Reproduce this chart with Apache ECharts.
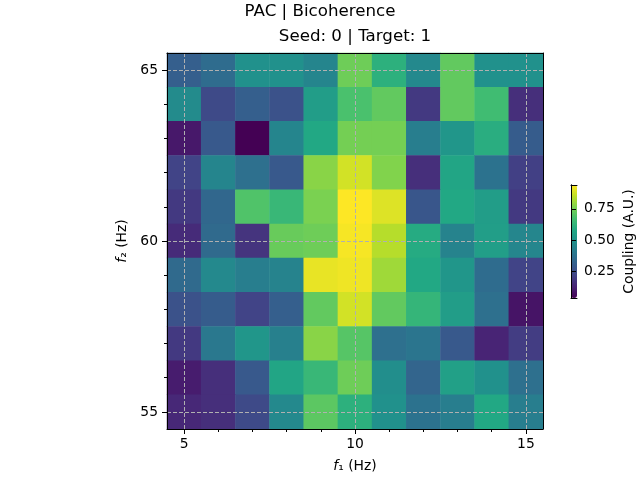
<!DOCTYPE html>
<html>
<head>
<meta charset="utf-8">
<script src="https://cdn.jsdelivr.net/npm/echarts@6/dist/echarts.min.js"></script>
<style>html,body{margin:0;padding:0;background:#fff}#c{width:640px;height:480px}</style>
</head>
<body>
<div id="c"></div>
<script>
// f1 (x) categories and f2 (y) rows, top (65) to bottom (55)
const f1Values = [5, 6, 7, 8, 9, 10, 11, 12, 13, 14, 15];
const f2ValuesTopDown = [65, 64, 63, 62, 61, 60, 59, 58, 57, 56, 55];
const row65 = [0.31, 0.355, 0.49, 0.49, 0.445, 0.74, 0.61, 0.46, 0.72, 0.49, 0.49];
const row64 = [0.47, 0.24, 0.31, 0.265, 0.535, 0.68, 0.72, 0.19, 0.72, 0.66, 0.16];
const row63 = [0.10, 0.29, 0.04, 0.445, 0.58, 0.75, 0.75, 0.42, 0.51, 0.60, 0.30];
const row62 = [0.22, 0.445, 0.37, 0.29, 0.78, 0.88, 0.77, 0.16, 0.57, 0.38, 0.21];
const row61 = [0.19, 0.34, 0.69, 0.64, 0.76, 0.94, 0.895, 0.28, 0.58, 0.535, 0.19];
const row60 = [0.15, 0.35, 0.175, 0.73, 0.74, 0.93, 0.84, 0.59, 0.44, 0.54, 0.45];
const row59 = [0.35, 0.46, 0.42, 0.44, 0.91, 0.92, 0.81, 0.58, 0.51, 0.355, 0.22];
const row58 = [0.265, 0.30, 0.22, 0.31, 0.72, 0.88, 0.72, 0.63, 0.535, 0.37, 0.09];
const row57 = [0.19, 0.40, 0.51, 0.43, 0.78, 0.70, 0.37, 0.39, 0.29, 0.13, 0.20];
const row56 = [0.11, 0.16, 0.29, 0.57, 0.64, 0.74, 0.48, 0.33, 0.55, 0.49, 0.37];
const row55 = [0.14, 0.16, 0.24, 0.46, 0.71, 0.61, 0.49, 0.38, 0.42, 0.58, 0.42];
const rowsTopDown = [row65, row64, row63, row62, row61, row60, row59, row58, row57, row56, row55];

const f1MajorTicks = [5, 10, 15];
const f2MajorTicks = [55, 60, 65];
const f1MinorTicks = [5, 6, 7, 8, 9, 10, 11, 12, 13, 14, 15];
const f2MinorTicks = [55, 56, 57, 58, 59, 60, 61, 62, 63, 64, 65];
const colorbarTicks = [0.25, 0.50, 0.75];
const valueMin = 0.04, valueMax = 0.94;

const viridis = ['#440154','#482475','#414487','#355f8d','#2a788e','#21918c','#22a884','#44bf70','#7ad151','#bddf26','#fde725'];

const FONT = 'DejaVu Sans';
const f2Asc = f2ValuesTopDown.slice().sort((a, b) => a - b);
const heatData = [];
rowsTopDown.forEach((row, r) => {
  const yi = f2Asc.indexOf(f2ValuesTopDown[r]);
  row.forEach((v, c) => heatData.push([c, yi, v]));
});

const black = '#000';
const txt = {color: black, fontFamily: FONT, fontSize: 13.89};
const grid = {color: '#b0b0b0', width: 1, type: [4, 2]};
function spine(extra) {
  return Object.assign({
    type: 'value', z: 10,
    axisLine: {show: true, lineStyle: {color: black, width: 1}},
    axisTick: {show: false}, axisLabel: {show: false}, splitLine: {show: false}
  }, extra);
}

const chart = echarts.init(document.getElementById('c'), null, {renderer: 'canvas'});
chart.setOption({
  animation: false,
  backgroundColor: '#fff',
  title: {
    text: 'PAC | Bicoherence', left: 'center', top: 3, padding: 0,
    textStyle: {fontFamily: FONT, fontSize: 16.67, fontWeight: 'normal', color: black}
  },
  grid: [
    {left: 167, right: 97, top: 53, bottom: 51, outerBoundsMode: 'none', containLabel: false},
    {left: 571, right: 63, top: 185, bottom: 182, outerBoundsMode: 'none', containLabel: false}
  ],
  xAxis: [
    {type: 'category', gridIndex: 0, data: f1Values.map(String), show: false, position: 'bottom'},
    spine({
      gridIndex: 0, min: 4.5, max: 15.5, position: 'bottom',
      axisTick: {show: true, customValues: f1MajorTicks, length: 5, lineStyle: {color: black, width: 1}},
      axisLabel: Object.assign({show: true, customValues: f1MajorTicks, margin: 8}, txt),
      splitLine: {show: true, lineStyle: grid},
      name: '{i|f}\u2081 (Hz)', nameLocation: 'middle', nameGap: 30,
      nameTextStyle: Object.assign({rich: {i: Object.assign({fontStyle: 'italic'}, txt)}}, txt)
    }),
    spine({
      gridIndex: 0, min: 4.5, max: 15.5, position: 'bottom', axisLine: {show: false},
      axisTick: {show: true, customValues: f1MinorTicks, length: 3, lineStyle: {color: black, width: 1}}
    }),
    spine({
      gridIndex: 0, min: 4.5, max: 15.5, position: 'top',
      name: 'Seed: 0 | Target: 1', nameLocation: 'middle', nameGap: 8,
      nameTextStyle: {color: black, fontFamily: FONT, fontSize: 16.67}
    }),
    spine({gridIndex: 1, min: 0, max: 1, position: 'bottom'}),
    spine({gridIndex: 1, min: 0, max: 1, position: 'top'})
  ],
  yAxis: [
    {type: 'category', gridIndex: 0, data: f2Asc.map(String), show: false, position: 'left'},
    spine({
      gridIndex: 0, min: 54.5, max: 65.5, position: 'left',
      axisTick: {show: true, customValues: f2MajorTicks, length: 5, lineStyle: {color: black, width: 1}},
      axisLabel: Object.assign({show: true, customValues: f2MajorTicks, margin: 9}, txt),
      splitLine: {show: true, lineStyle: grid},
      name: '{i|f}\u2082 (Hz)', nameLocation: 'middle', nameGap: 36,
      nameTextStyle: Object.assign({rich: {i: Object.assign({fontStyle: 'italic'}, txt)}}, txt)
    }),
    spine({
      gridIndex: 0, min: 54.5, max: 65.5, position: 'left', axisLine: {show: false},
      axisTick: {show: true, customValues: f2MinorTicks, length: 3, lineStyle: {color: black, width: 1}}
    }),
    spine({gridIndex: 0, min: 54.5, max: 65.5, position: 'right'}),
    spine({
      gridIndex: 1, min: valueMin, max: valueMax, position: 'right',
      axisTick: {show: true, customValues: colorbarTicks, length: 5, lineStyle: {color: black, width: 1}},
      axisLabel: Object.assign({show: true, customValues: colorbarTicks, margin: 7,
        formatter: v => Number(v).toFixed(2)}, txt),
      name: 'Coupling (A.U.)', nameLocation: 'middle', nameGap: 45,
      nameTextStyle: txt
    }),
    spine({gridIndex: 1, min: valueMin, max: valueMax, position: 'left'})
  ],
  visualMap: {
    type: 'continuous', min: valueMin, max: valueMax, seriesIndex: 0,
    show: true, calculable: false, hoverLink: false, text: null,
    left: 571, top: 185, itemWidth: 6, itemHeight: 113, padding: 0,
    inRange: {color: viridis}
  },
  series: [{
    type: 'heatmap', xAxisIndex: 0, yAxisIndex: 0, data: heatData,
    emphasis: {disabled: true}, itemStyle: {borderWidth: 0}
  }]
});
</script>
</body>
</html>
